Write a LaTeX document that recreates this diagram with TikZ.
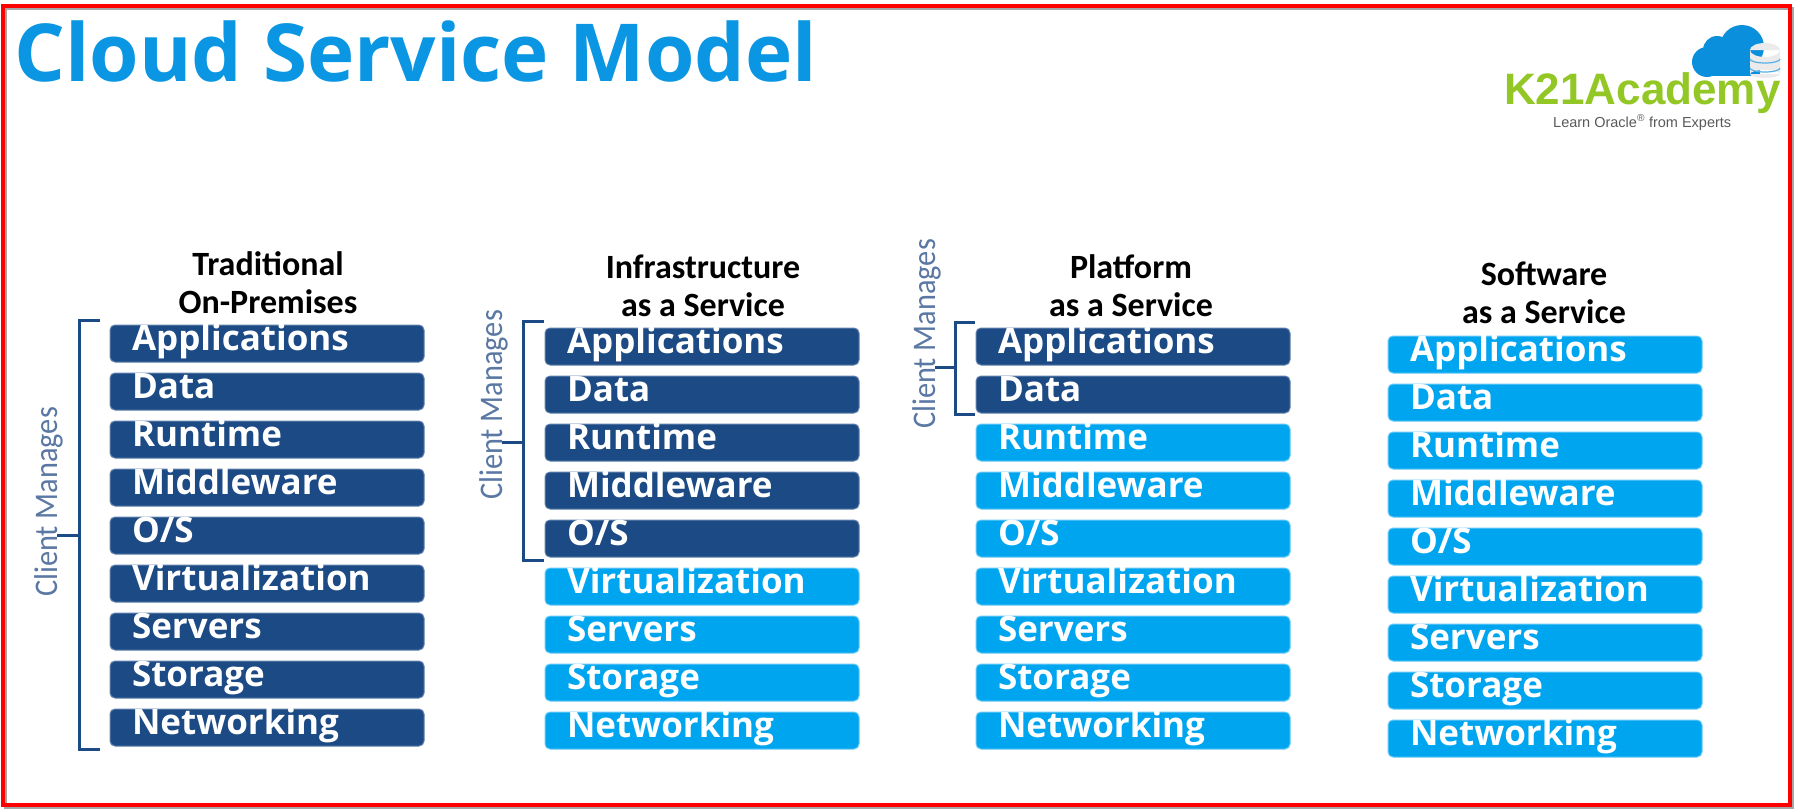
\documentclass[tikz,border=0pt]{standalone}
\usepackage{fontspec}
\setmainfont{Open Sans}
\newfontfamily\headfont{Carlito}
\newfontfamily\labelfont[FakeStretch=0.92]{Carlito}
\newfontfamily\logofont{Liberation Sans}
\usepackage{tikz}
\usetikzlibrary{positioning}
\definecolor{dark_blue}{HTML}{1C4A85}
\definecolor{light_blue}{HTML}{00A5F0}
\definecolor{title_blue}{HTML}{0A96E3}
\definecolor{label_blue}{HTML}{5A78A3}
\definecolor{logo_green}{HTML}{93C726}
\definecolor{cloud_blue}{HTML}{0A8FDC}
\tikzset{
  box_font/.style = {font=\fontsize{35}{36}\selectfont\bfseries},
  box/.style = {box_font, text=white, rounded corners=5, inner ysep=0, inner xsep=22, outer sep=0,
    text width=270, align=left, text height=25, text depth=12, line width=1},
  dark_box/.style = {box, fill=dark_blue, draw=dark_blue!70},
  light_box/.style = {box, fill=light_blue, draw=light_blue!60},
  top_box/.style = {anchor=north west}
}
\tikzset{
  heading/.style = {font=\headfont\fontsize{34}{38.5}\selectfont\bfseries, align=center, anchor=south, inner sep=0},
  client_label/.style = {font=\labelfont\fontsize{33}{36}\selectfont, text=label_blue, rotate=90, anchor=base, inner sep=0},
  bracket/.style = {draw=dark_blue, line width=3}
}
\begin{document}
\begin{tikzpicture}[x=1pt, y=-1pt, node distance=11pt]
        \useasboundingbox (0,0) rectangle (1796,811);

        % Frame
        \draw[black!35, line width=3] (5.5,8) rectangle (1792,807.5);
        \draw[red, line width=4] (3,5.5) rectangle (1789.5,805);

        % Title and logo
        \node[font=\fontsize{80}{82}\selectfont\bfseries, text=title_blue, anchor=base west, inner sep=0] (title) at (14,81) {Cloud Service Model};
        \fill[cloud_blue] (1707,62) circle (15) (1717,50) circle (14) (1742,47) circle (22);
        \fill[cloud_blue] (1707,60) rectangle (1760,76);
        \fill[black!8] (1750,50) rectangle (1780,74) (1765,50) ellipse (15 and 7) (1765,74) ellipse (15 and 4);
        \draw[cloud_blue!70, line width=1.2] (1750,59) arc[start angle=180, end angle=360, x radius=15, y radius=-4];
        \draw[cloud_blue!70, line width=1.2] (1750,68) arc[start angle=180, end angle=360, x radius=15, y radius=-4];
        \node[font=\logofont\fontsize{44}{46}\selectfont\bfseries, text=logo_green, anchor=base west, inner sep=0] (logo) at (1504,104) {K21Academy};
        \node[font=\logofont\fontsize{14.5}{16}\selectfont, text=black!65, anchor=base west, inner sep=0] (motto) at (1553,127) {Learn Oracle\textsuperscript{®} from Experts};

        % Headings
        \node[heading] (h_pre) at (268,314) {Traditional\\On-Premises};
        \node[heading] (h_iaas) at (703,317) {Infrastructure\\as a Service};
        \node[heading] (h_paas) at (1131,317) {Platform\\as a Service};
        \node[heading] (h_saas) at (1544,324) {Software\\as a Service};

        % Traditional
        \node[dark_box, top_box] (pre_1) at (110,325) {Applications};
        \node[dark_box, below=of pre_1] (pre_2) {Data};
        \node[dark_box, below=of pre_2] (pre_3) {Runtime};
        \node[dark_box, below=of pre_3] (pre_4) {Middleware};
        \node[dark_box, below=of pre_4] (pre_5) {O/S};
        \node[dark_box, below=of pre_5] (pre_6) {Virtualization};
        \node[dark_box, below=of pre_6] (pre_7) {Servers};
        \node[dark_box, below=of pre_7] (pre_8) {Storage};
        \node[dark_box, below=of pre_8] (pre_9) {Networking};

        % Infrastructure
        \node[dark_box, top_box] (iaas_1) at (545,328) {Applications};
        \node[dark_box, below=of iaas_1] (iaas_2) {Data};
        \node[dark_box, below=of iaas_2] (iaas_3) {Runtime};
        \node[dark_box, below=of iaas_3] (iaas_4) {Middleware};
        \node[dark_box, below=of iaas_4] (iaas_5) {O/S};
        \node[light_box, below=of iaas_5] (iaas_6) {Virtualization};
        \node[light_box, below=of iaas_6] (iaas_7) {Servers};
        \node[light_box, below=of iaas_7] (iaas_8) {Storage};
        \node[light_box, below=of iaas_8] (iaas_9) {Networking};

        % Platform
        \node[dark_box, top_box] (paas_1) at (976,328) {Applications};
        \node[dark_box, below=of paas_1] (paas_2) {Data};
        \node[light_box, below=of paas_2] (paas_3) {Runtime};
        \node[light_box, below=of paas_3] (paas_4) {Middleware};
        \node[light_box, below=of paas_4] (paas_5) {O/S};
        \node[light_box, below=of paas_5] (paas_6) {Virtualization};
        \node[light_box, below=of paas_6] (paas_7) {Servers};
        \node[light_box, below=of paas_7] (paas_8) {Storage};
        \node[light_box, below=of paas_8] (paas_9) {Networking};

        % Software
        \node[light_box, top_box] (saas_1) at (1388,336) {Applications};
        \node[light_box, below=of saas_1] (saas_2) {Data};
        \node[light_box, below=of saas_2] (saas_3) {Runtime};
        \node[light_box, below=of saas_3] (saas_4) {Middleware};
        \node[light_box, below=of saas_4] (saas_5) {O/S};
        \node[light_box, below=of saas_5] (saas_6) {Virtualization};
        \node[light_box, below=of saas_6] (saas_7) {Servers};
        \node[light_box, below=of saas_7] (saas_8) {Storage};
        \node[light_box, below=of saas_8] (saas_9) {Networking};

        % Client labels
        \node[client_label] (m_pre) at (57,502) {Client Manages};
        \node[client_label] (m_iaas) at (502,405) {Client Manages};
        \node[client_label] (m_paas) at (935,334) {Client Manages};

        % Brackets
        \coordinate (br_pre_t) at ([xshift=-10,yshift=5]pre_1.north west);
        \coordinate (br_pre_c) at ([xshift=-21]br_pre_t);
        \coordinate (br_pre_b) at ([xshift=-10,yshift=-3]pre_9.south west);
        \draw[bracket] (br_pre_t)--(br_pre_c)|-(br_pre_b);
        \draw[bracket] (m_pre.base |- pre_5.center)--(br_pre_c |- pre_5.center);

        \coordinate (br_iaas_t) at ([xshift=-1,yshift=7]iaas_1.north west);
        \coordinate (br_iaas_c) at ([xshift=-21]br_iaas_t);
        \coordinate (br_iaas_b) at ([xshift=-1,yshift=-3]iaas_5.south west);
        \draw[bracket] (br_iaas_t)--(br_iaas_c)|-(br_iaas_b);
        \draw[bracket] (m_iaas.base |- iaas_3.center)--(br_iaas_c |- iaas_3.center);

        \coordinate (br_paas_t) at ([xshift=-1,yshift=6]paas_1.north west);
        \coordinate (br_paas_c) at ([xshift=-20]br_paas_t);
        \coordinate (br_paas_b) at ([xshift=-1,yshift=-1]paas_2.south west);
        \coordinate (br_paas_s) at ([yshift=-2]paas_1.south);
        \draw[bracket] (br_paas_t)--(br_paas_c)|-(br_paas_b);
        \draw[bracket] (m_paas.base |- br_paas_s)--(br_paas_c |- br_paas_s);
\end{tikzpicture}
\end{document}
